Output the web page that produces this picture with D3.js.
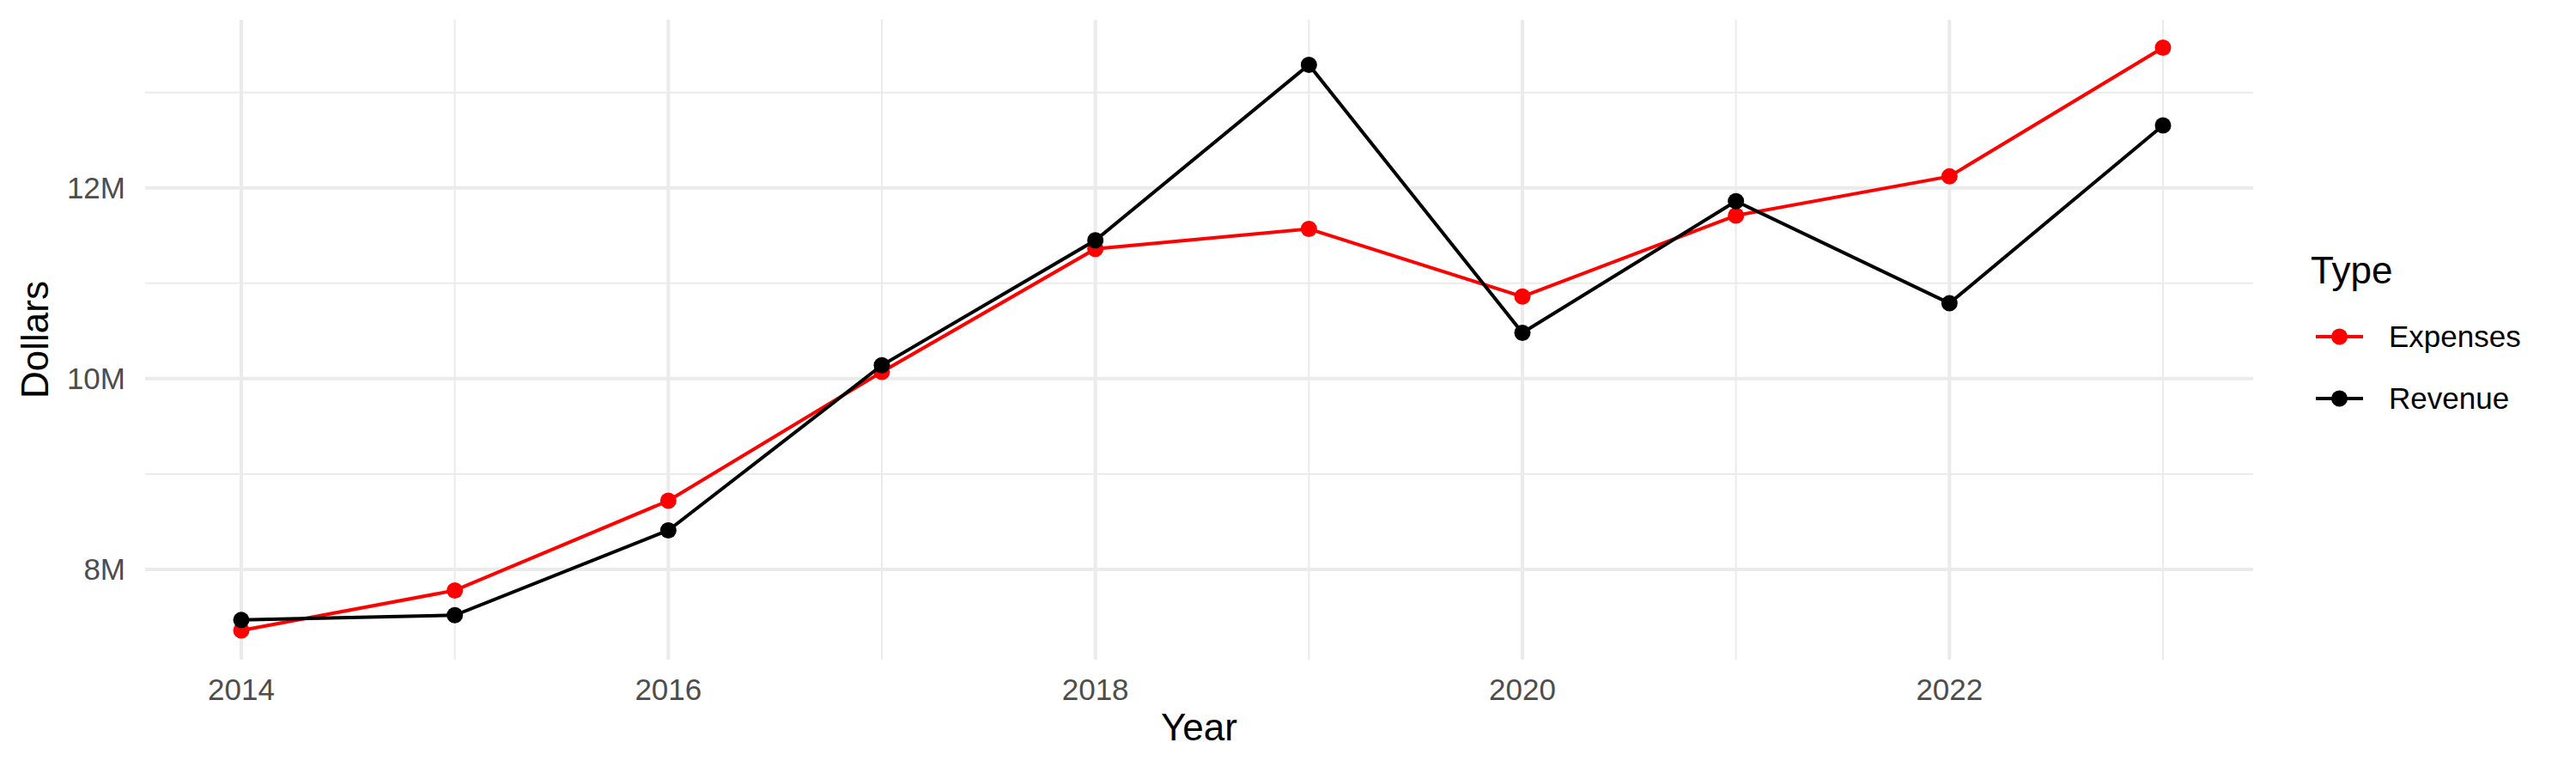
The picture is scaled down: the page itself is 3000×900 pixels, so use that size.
<!DOCTYPE html>
<html><head><meta charset="utf-8">
<script src="https://cdn.jsdelivr.net/npm/d3@7"></script>
<style>body{margin:0;background:#fff}svg{display:block;font-family:"Liberation Sans",Arial,sans-serif}</style>
</head><body><svg id="c" width="3000" height="900"></svg>
<script>
const years = [2014,2015,2016,2017,2018,2019,2020,2021,2022,2023];
const expenses = [7.36,7.78,8.72,10.07,11.36,11.57,10.86,11.71,12.12,13.47];
const revenue = [7.47,7.52,8.41,10.14,11.45,13.29,10.48,11.86,10.79,12.655];
const xTicks = [2014,2016,2018,2020,2022];
const xMinor = [2015,2017,2019,2021,2023];
const yTicks = [8,10,12];
const yMinor = [9,11,13];
const seriesNames = ["Expenses","Revenue"];
const seriesColors = ["#ff0000","#000000"];

const svg = d3.select("#c");
const L=169,R=2624,T=23,B=768;
const x = d3.scaleLinear().domain([2014,2023]).range([281,2519]);
const y = d3.scaleLinear().domain([8,12]).range([663,218.7]);
const g = svg.append("g");
g.selectAll(".ym").data(yMinor).join("line").attr("x1",L).attr("x2",R).attr("y1",d=>y(d)).attr("y2",d=>y(d)).attr("stroke","#ebebeb").attr("stroke-width",2);
g.selectAll(".xm").data(xMinor).join("line").attr("y1",T).attr("y2",B).attr("x1",d=>x(d)).attr("x2",d=>x(d)).attr("stroke","#ebebeb").attr("stroke-width",2);
g.selectAll(".yM").data(yTicks).join("line").attr("x1",L).attr("x2",R).attr("y1",d=>y(d)).attr("y2",d=>y(d)).attr("stroke","#ebebeb").attr("stroke-width",4);
g.selectAll(".xM").data(xTicks).join("line").attr("y1",T).attr("y2",B).attr("x1",d=>x(d)).attr("x2",d=>x(d)).attr("stroke","#ebebeb").attr("stroke-width",4);

g.selectAll(".yl").data(yTicks).join("text").attr("x",146).attr("y",d=>y(d)+12).attr("text-anchor","end").attr("font-size",35).attr("fill","#4d4d4d").text(d=>d+"M");
g.selectAll(".xl").data(xTicks).join("text").attr("x",d=>x(d)).attr("y",815).attr("text-anchor","middle").attr("font-size",35).attr("fill","#4d4d4d").text(d=>d);
svg.append("text").attr("x",(L+R)/2).attr("y",862).attr("text-anchor","middle").attr("font-size",44).text("Year");
svg.append("text").attr("transform","translate(56,"+((T+B)/2)+") rotate(-90)").attr("text-anchor","middle").attr("font-size",44).text("Dollars");

const data=[expenses,revenue];
const line=d3.line().x((d,i)=>x(years[i])).y(d=>y(d));
data.forEach((vals,k)=>{
  g.append("path").attr("d",line(vals)).attr("fill","none").attr("stroke",seriesColors[k]).attr("stroke-width",4);
  g.selectAll(".p"+k).data(vals).join("circle").attr("cx",(d,i)=>x(years[i])).attr("cy",d=>y(d)).attr("r",9.5).attr("fill",seriesColors[k]);
});

svg.append("text").attr("x",2691).attr("y",330).attr("font-size",44).text("Type");
seriesNames.forEach((n,k)=>{
  const yy=392+k*72;
  svg.append("line").attr("x1",2697).attr("x2",2752).attr("y1",yy).attr("y2",yy).attr("stroke",seriesColors[k]).attr("stroke-width",4);
  svg.append("circle").attr("cx",2724.5).attr("cy",yy).attr("r",9.5).attr("fill",seriesColors[k]);
  svg.append("text").attr("x",2782).attr("y",yy+12).attr("font-size",35).text(n);
});
</script></body></html>
